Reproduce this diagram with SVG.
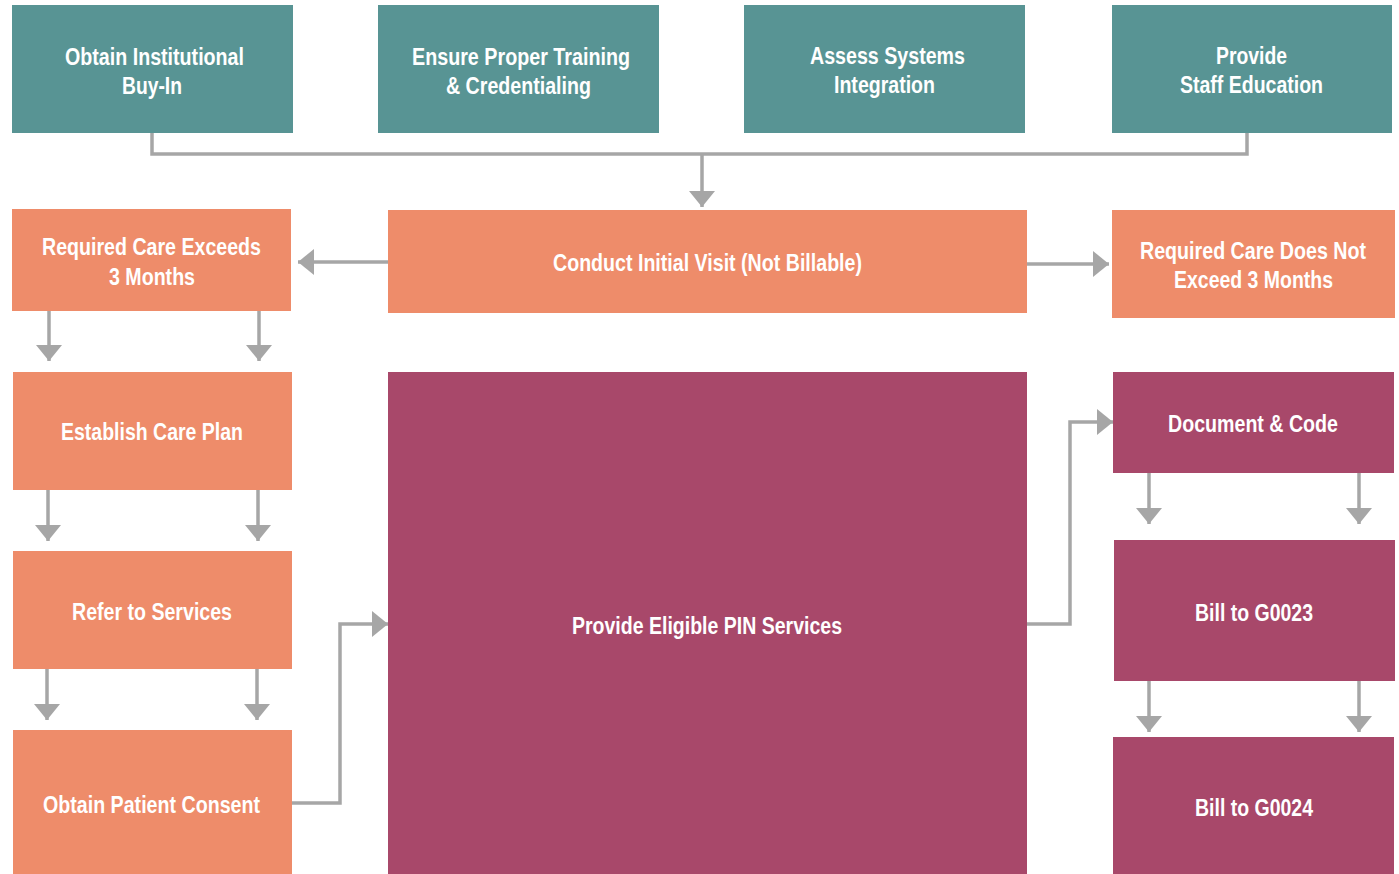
<svg xmlns="http://www.w3.org/2000/svg" width="1399" height="874" viewBox="0 0 1399 874">
<defs>
<style>
.t{fill:#589494}
.o{fill:#ee8c6a}
.p{fill:#a8486a}
text{font-family:"Liberation Sans Narrow","Arial Narrow","Liberation Sans",sans-serif;font-weight:bold;font-size:23.5px;fill:#fff;text-anchor:middle}
.c{fill:none;stroke:#a6a6a6;stroke-width:3.5}
</style>
<marker id="ah" viewBox="0 0 16 26" refX="16" refY="13" markerWidth="16" markerHeight="26" markerUnits="userSpaceOnUse" orient="auto">
<path d="M0,0 L16,13 L0,26 Z" fill="#a6a6a6"/>
</marker>
</defs>
<rect width="1399" height="874" fill="#fff"/>
<g id="n1"><rect class="t" x="12" y="5" width="281" height="128"/><text x="154.5" y="65" textLength="179" lengthAdjust="spacingAndGlyphs">Obtain Institutional</text><text x="152" y="94" textLength="60" lengthAdjust="spacingAndGlyphs">Buy-In</text></g>
<g id="n2"><rect class="t" x="378" y="5" width="281" height="128"/><text x="521" y="65" textLength="218" lengthAdjust="spacingAndGlyphs">Ensure Proper Training</text><text x="518.5" y="94" textLength="145" lengthAdjust="spacingAndGlyphs">&amp; Credentialing</text></g>
<g id="n3"><rect class="t" x="744" y="5" width="281" height="128"/><text x="887.5" y="64" textLength="155" lengthAdjust="spacingAndGlyphs">Assess Systems</text><text x="884.5" y="93" textLength="101" lengthAdjust="spacingAndGlyphs">Integration</text></g>
<g id="n4"><rect class="t" x="1112" y="5" width="280" height="128"/><text x="1251.5" y="64" textLength="71" lengthAdjust="spacingAndGlyphs">Provide</text><text x="1251.5" y="93" textLength="143" lengthAdjust="spacingAndGlyphs">Staff Education</text></g>
<g id="n5"><rect class="o" x="388" y="210" width="639" height="103"/><text x="707.5" y="271" textLength="309" lengthAdjust="spacingAndGlyphs">Conduct Initial Visit (Not Billable)</text></g>
<g id="n6"><rect class="o" x="12" y="209" width="279" height="102"/><text x="151.5" y="255" textLength="219" lengthAdjust="spacingAndGlyphs">Required Care Exceeds</text><text x="152" y="285" textLength="86" lengthAdjust="spacingAndGlyphs">3 Months</text></g>
<g id="n7"><rect class="o" x="1112" y="210" width="283" height="108"/><text x="1253" y="259" textLength="226" lengthAdjust="spacingAndGlyphs">Required Care Does Not</text><text x="1253.5" y="288" textLength="159" lengthAdjust="spacingAndGlyphs">Exceed 3 Months</text></g>
<g id="n8"><rect class="o" x="13" y="372" width="279" height="118"/><text x="152" y="440" textLength="182" lengthAdjust="spacingAndGlyphs">Establish Care Plan</text></g>
<g id="n9"><rect class="o" x="13" y="551" width="279" height="118"/><text x="152" y="620" textLength="160" lengthAdjust="spacingAndGlyphs">Refer to Services</text></g>
<g id="n10"><rect class="o" x="13" y="730" width="279" height="144"/><text x="151.5" y="813" textLength="217" lengthAdjust="spacingAndGlyphs">Obtain Patient Consent</text></g>
<g id="n11"><rect class="p" x="388" y="372" width="639" height="502"/><text x="707" y="634" textLength="270" lengthAdjust="spacingAndGlyphs">Provide Eligible PIN Services</text></g>
<g id="n12"><rect class="p" x="1113" y="372" width="281" height="101"/><text x="1253" y="432" textLength="170" lengthAdjust="spacingAndGlyphs">Document &amp; Code</text></g>
<g id="n13"><rect class="p" x="1114" y="540" width="281" height="141"/><text x="1254" y="621" textLength="118" lengthAdjust="spacingAndGlyphs">Bill to G0023</text></g>
<g id="n14"><rect class="p" x="1113" y="737" width="281" height="137"/><text x="1254" y="816" textLength="118" lengthAdjust="spacingAndGlyphs">Bill to G0024</text></g>
<g id="connectors">
<path class="c" d="M152,133 V154 H1247 V133"/>
<path class="c" d="M702,154 V207" marker-end="url(#ah)"/>
<path class="c" d="M388,262 H298" marker-end="url(#ah)"/>
<path class="c" d="M1027,264 H1109" marker-end="url(#ah)"/>
<path class="c" d="M49,311 V361" marker-end="url(#ah)"/>
<path class="c" d="M259,311 V361" marker-end="url(#ah)"/>
<path class="c" d="M48,490 V541" marker-end="url(#ah)"/>
<path class="c" d="M258,490 V541" marker-end="url(#ah)"/>
<path class="c" d="M47,669 V720" marker-end="url(#ah)"/>
<path class="c" d="M257,669 V720" marker-end="url(#ah)"/>
<path class="c" d="M1149,473 V524" marker-end="url(#ah)"/>
<path class="c" d="M1359,473 V524" marker-end="url(#ah)"/>
<path class="c" d="M1149,681 V732" marker-end="url(#ah)"/>
<path class="c" d="M1359,681 V732" marker-end="url(#ah)"/>
<path class="c" d="M292,803 H340 V624 H388" marker-end="url(#ah)"/>
<path class="c" d="M1027,624 H1070 V422 H1113" marker-end="url(#ah)"/>
</g>
</svg>
